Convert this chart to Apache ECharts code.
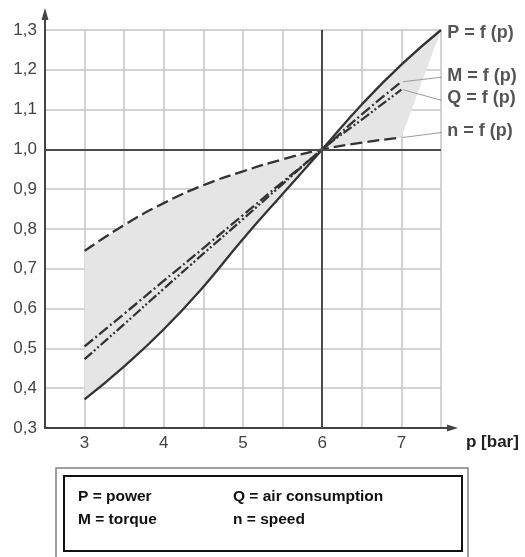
<!DOCTYPE html>
<html><head><meta charset="utf-8">
<script src="https://cdn.jsdelivr.net/npm/echarts@6/dist/echarts.min.js"></script>
<style>html,body{margin:0;padding:0;background:#fff}#c{width:525px;height:557px}</style>
</head><body><div id="c"></div>
<script>
// ---- data ----
const pressure  = [3, 3.5, 4, 4.5, 5, 5.5, 6, 6.5, 7];
const pressureP = [3, 3.5, 4, 4.5, 5, 5.5, 6, 6.5, 7, 7.5];
const powerP  = [0.372, 0.455, 0.548, 0.655, 0.775, 0.888, 1.0, 1.113, 1.213, 1.3];
const torqueM = [0.505, 0.587, 0.67, 0.752, 0.835, 0.918, 1.0, 1.088, 1.17];
const airQ    = [0.473, 0.561, 0.65, 0.738, 0.825, 0.913, 1.0, 1.075, 1.15];
const speedN  = [0.745, 0.81, 0.865, 0.91, 0.945, 0.975, 1.0, 1.017, 1.03];
const curveLabels  = ['P = f (p)', 'M = f (p)', 'Q = f (p)', 'n = f (p)'];
const labelAnchors = [[7.54, 1.2925], [7.54, 1.184], [7.54, 1.129], [7.54, 1.046]];
const leaderStarts = [[7.02, 1.17], [7.02, 1.15], [7.02, 1.03]];
const leaderEnds   = [[7.53, 1.182], [7.53, 1.122], [7.53, 1.043]];
const legendRows = [['P = power', 'Q = air consumption'], ['M = torque', 'n = speed']];
const xName = 'p [bar]';

const zip = (xs, ys) => xs.map((x, i) => [x, ys[i]]);
const ink = '#333';
const fam = '"Liberation Sans", Arial, sans-serif';

const chart = echarts.init(document.getElementById('c'), null, {renderer: 'canvas'});

const leaderSeries = leaderStarts.map((s, i) => ({
  type: 'line', data: [s, leaderEnds[i]], symbol: 'none', silent: true, clip: false, z: 3,
  lineStyle: {color: '#9a9a9a', width: 1}
}));

const legendText = [];
legendRows.forEach((row, r) => row.forEach((t, c) => legendText.push({
  type: 'text', left: c === 0 ? 78 : 233, top: 489 + r * 23,
  style: {text: t, font: 'bold 15.5px ' + fam, fill: '#111'}
})));

chart.setOption({
  animation: false,
  backgroundColor: '#fff',
  grid: {left: 45, right: 84, top: 30, bottom: 129},
  xAxis: {
    type: 'value', min: 2.5, max: 7.5, interval: 0.5,
    name: xName, nameLocation: 'end', nameGap: 25,
    nameTextStyle: {fontSize: 17, fontWeight: 'bold', color: '#222', fontFamily: fam,
      verticalAlign: 'top', padding: [6, 0, 0, 0]},
    axisLine: {onZero: false, lineStyle: {color: '#444', width: 2},
      symbol: ['none', 'path://M3.5,0 L7,11 L4.5,11 L4.5,17 L2.5,17 L2.5,11 L0,11 Z'],
      symbolSize: [7, 17], symbolOffset: [0, 8.5]},
    axisTick: {show: false},
    axisLabel: {fontSize: 17, color: '#444', margin: 7, fontFamily: fam,
      formatter: v => Number.isInteger(v) ? String(v) : ''},
    splitLine: {show: true, lineStyle: {color: '#c4c4c4', width: 1.5}}
  },
  yAxis: {
    type: 'value', min: 0.3, max: 1.3, interval: 0.1,
    axisLine: {show: true, onZero: false, lineStyle: {color: '#444', width: 2},
      symbol: ['none', 'path://M3.5,0 L7,12 L4.5,12 L4.5,22 L2.5,22 L2.5,12 L0,12 Z'],
      symbolSize: [7, 22], symbolOffset: [0, 11]},
    axisTick: {show: false},
    axisLabel: {fontSize: 17, color: '#444', margin: 8, fontFamily: fam,
      formatter: v => v.toFixed(1).replace('.', ',')},
    splitLine: {show: true, lineStyle: {color: '#c4c4c4', width: 1.5}}
  },
  series: [
    {
      type: 'custom', silent: true, z: 1, data: [[3, 1]],
      renderItem: (params, api) => {
        const pts = [];
        pressure.forEach((p, i) => pts.push(api.coord([p, speedN[i]])));
        for (let i = pressureP.length - 1; i >= 0; i--) pts.push(api.coord([pressureP[i], powerP[i]]));
        return {type: 'polygon', shape: {points: pts}, style: {fill: '#e5e5e5'}};
      },
      markLine: {silent: true, symbol: 'none', label: {show: false}, animation: false,
        lineStyle: {color: '#4a4a4a', width: 2, type: 'solid'},
        data: [{xAxis: 6}, {yAxis: 1}]}
    },
    {type: 'line', name: 'P', data: zip(pressureP, powerP), smooth: 0.5, symbol: 'none', z: 4,
      lineStyle: {color: ink, width: 2.3}},
    {type: 'line', name: 'M', data: zip(pressure, torqueM), smooth: 0.5, symbol: 'none', z: 4,
      lineStyle: {color: ink, width: 2.3, type: [11, 3, 2, 3]}},
    {type: 'line', name: 'Q', data: zip(pressure, airQ), smooth: 0.5, symbol: 'none', z: 4,
      lineStyle: {color: ink, width: 2.3, type: [10, 2.5, 2, 2.5, 2, 2.5]}},
    {type: 'line', name: 'n', data: zip(pressure, speedN), smooth: 0.5, symbol: 'none', z: 4,
      lineStyle: {color: ink, width: 2.3, type: [12, 5]}},
    ...leaderSeries,
    {type: 'scatter', data: labelAnchors, symbolSize: 0, clip: false, silent: true, z: 5,
      label: {show: true, position: 'right', distance: 3, color: '#2a2a2a', fontSize: 18, fontWeight: 'bold',
        fontFamily: fam, formatter: p => curveLabels[p.dataIndex]}}
  ],
  graphic: [
    {type: 'rect', shape: {x: 56, y: 468, width: 412, height: 100}, style: {fill: '#fff', stroke: '#808080', lineWidth: 1.5}},
    {type: 'rect', shape: {x: 64, y: 476, width: 398, height: 75}, style: {fill: '#fff', stroke: '#111', lineWidth: 2}},
    ...legendText
  ]
});
</script></body></html>
